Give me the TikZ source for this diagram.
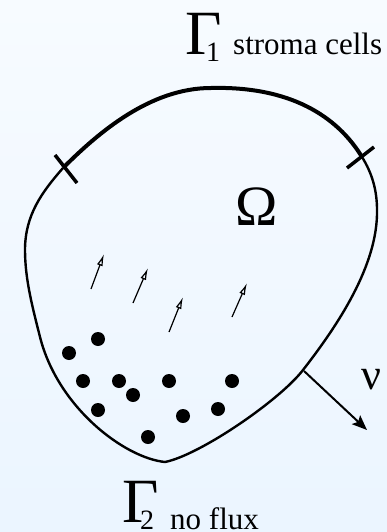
\documentclass[tikz,border=0pt]{standalone}
\usepackage{fontspec}
\setmainfont{Liberation Serif}
\usetikzlibrary{arrows.meta, positioning}
\definecolor{bgtop}{RGB}{247,251,255}
\definecolor{bgbottom}{RGB}{235,245,255}

\begin{document}
\begin{tikzpicture}[
  x=1pt, y=-1pt,
  bigsym/.style={inner sep=0pt, anchor=base west,
              font=\fontsize{63}{63}\selectfont},
  subsym/.style={inner sep=0pt, anchor=base west,
              font=\fontsize{28}{28}\selectfont},
  lbl/.style={inner sep=0pt, anchor=base west,
              font=\fontsize{31}{31}\selectfont},
  bndone/.style={line width=4pt},
  bndtwo/.style={line width=2.4pt, line join=round},
  cut/.style={line width=3.5pt},
  flow/.style={-{Latex[open, length=12pt, width=6pt]}, line width=1.2pt},
  nuarr/.style={-{Stealth[length=15pt, width=12pt, inset=3pt]}, line width=2pt},
  cell/.style={fill=black}
]

% ── Background and frame ──────────────────────────────────────
\fill[top color=bgtop, bottom color=bgbottom] (0,0) rectangle (387,532);
\useasboundingbox (0,0) rectangle (387,532);

% ── Ends of Γ1 ──
\coordinate (jleft)  at (63,168);
\coordinate (jright) at (362,157);

% ── Γ1: top arc (thick) ──────────────────────────────────────
\draw[bndone] (jleft) .. controls (98,133) and (150,88) .. (211,88)
                      .. controls (290,86) and (337,116) .. (jright);

% ── Γ2: rest of the boundary ─────────────────────────────────
\draw[bndtwo] (jright) .. controls (372,173) and (377,190) .. (377,210)
                       .. controls (378,265) and (338,325) .. (303,370)
                       .. controls (280,400) and (200,455) .. (165,462)
                       .. controls (125,458) and (58,408)  .. (40,337)
                       .. controls (33,309)  and (25,280)  .. (25,250)
                       .. controls (25,215)  and (42,192)  .. (jleft);

% ── Cuts marking the ends of Γ1 ──
\draw[cut] (55,155) -- (77,183);
\draw[cut] (347,168) -- (374,147);

% ── Cells near the bottom ────────────────────────────────────
\foreach \p in {(69,353),(98,339),(83,381),(119,381),(133,395),(169,381),
                (232,381),(98,410),(183,416),(218,409),(148,437)}
  \fill[cell] \p circle (7pt);

% ── Flow arrows ──
\foreach \tx/\ty/\hx/\hy in {91/289/104/254, 133/303/148/268,
                             169/332/183/297, 232/317/247/283}
  \draw[flow] (\tx,\ty) -- (\hx,\hy);

% ── Outer normal ──
\coordinate (nufoot) at (304,371);
\coordinate (nutip)  at (367,430);
\draw[nuarr] (nufoot) -- (nutip);
\node[inner sep=0pt, anchor=base west, font=\fontsize{44}{44}\selectfont]
  (nu) at (361,389) {ν};

% ── Labels ───────────────────────────────────────────────────
\node[inner sep=0pt, anchor=base west, font=\fontsize{57}{57}\selectfont]
  (omega) at (235,225) {Ω};

\node[bigsym] (gammaone)    at (185,55)  {Γ};
\node[subsym] (gammaonesub) at (206,62)  {1};
\node[lbl]    (cells)       at (233,55)  {stroma cells};

\node[bigsym] (gammatwo)    at (122,522) {Γ};
\node[subsym] (gammatwosub) at (140,529) {2};
\node[lbl]    (noflux)      at (170,529) {no flux};

\end{tikzpicture}
\end{document}
